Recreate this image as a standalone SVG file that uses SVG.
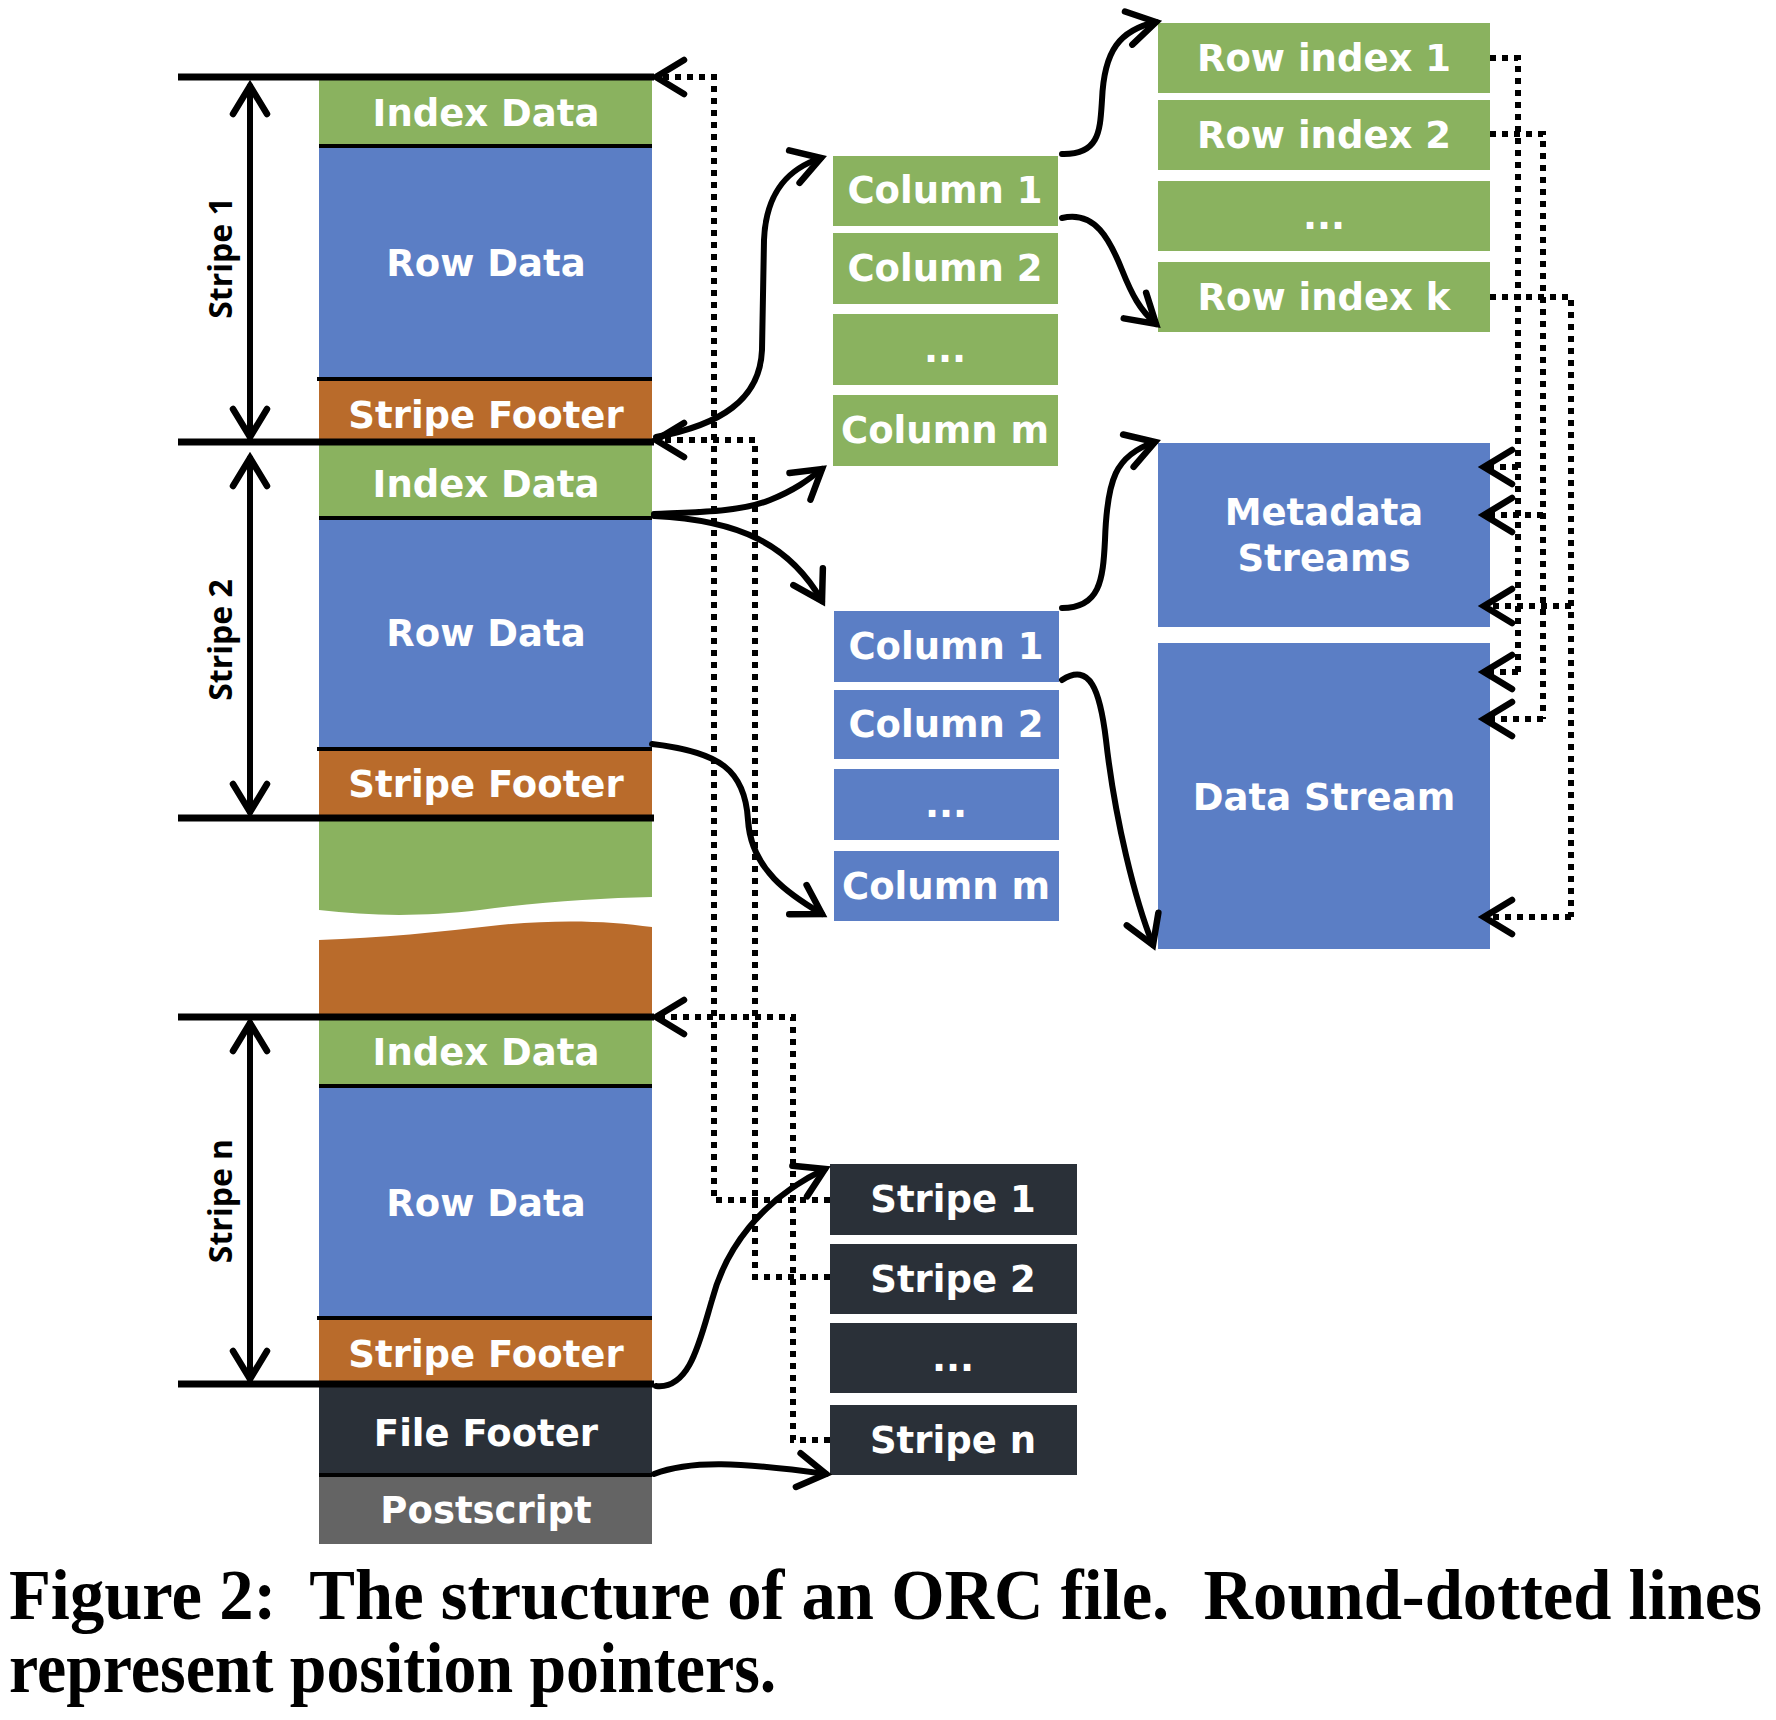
<svg xmlns="http://www.w3.org/2000/svg" width="1776" height="1720" viewBox="0 0 1776 1720">
<style>
.g{fill:#8AB25F}.b{fill:#5B7EC5}.o{fill:#B96B2B}.d{fill:#2A3038}.p{fill:#646464}
.lbl{font-family:"DejaVu Sans",Verdana,sans-serif;font-weight:bold;font-size:37px;fill:#fff;text-anchor:middle}
.dim{font-family:"Open Sans","Liberation Sans",sans-serif;font-weight:bold;font-size:32px;fill:#000;text-anchor:middle}
.hl{stroke:#000;stroke-width:7;fill:none}
.sep{stroke:#000;stroke-width:4;fill:none}
.sol{stroke:#000;stroke-width:6;fill:none;stroke-linecap:round}
.dot{stroke:#000;stroke-width:6;fill:none;stroke-dasharray:6 6}
.cap{font-family:"Liberation Serif","Times New Roman",serif;font-weight:bold;font-size:72px;fill:#000}
</style>
<defs>
<marker id="ah" markerUnits="userSpaceOnUse" viewBox="-40 -25 50 50" refX="0" refY="0" markerWidth="50" markerHeight="50" orient="auto-start-reverse" overflow="visible">
<path d="M -28 -17 L 0 0 L -28 17" fill="none" stroke="#000" stroke-width="6.5" stroke-dasharray="none" stroke-linecap="round" stroke-linejoin="miter"/>
</marker>
</defs>
<rect width="1776" height="1720" fill="#fff"/>

<!-- left file column -->
<g id="stripe1">
<rect class="g" x="319" y="77" width="333" height="69"/>
<rect class="b" x="319" y="146" width="333" height="233"/>
<rect class="o" x="319" y="379" width="333" height="63"/>
<line class="sep" x1="319" y1="146" x2="652" y2="146"/>
<line class="sep" x1="317" y1="379" x2="652" y2="379"/>
<text class="lbl" x="486" y="126">Index Data</text>
<text class="lbl" x="486" y="276">Row Data</text>
<text class="lbl" x="486" y="428">Stripe Footer</text>
</g>
<g id="stripe2">
<rect class="g" x="319" y="442" width="333" height="76"/>
<rect class="b" x="319" y="518" width="333" height="231"/>
<rect class="o" x="319" y="749" width="333" height="69"/>
<line class="sep" x1="319" y1="518" x2="652" y2="518"/>
<line class="sep" x1="317" y1="749" x2="652" y2="749"/>
<text class="lbl" x="486" y="497">Index Data</text>
<text class="lbl" x="486" y="646">Row Data</text>
<text class="lbl" x="486" y="797">Stripe Footer</text>
</g>
<g id="gap">
<path class="g" d="M 319 818 H 652 V 897 C 600 898 540 902 480 910 C 420 917 370 916 319 910 Z"/>
<path class="o" d="M 319 940 C 380 938 440 932 500 925 C 560 919 610 921 652 927 V 1017 H 319 Z"/>
</g>
<g id="stripen">
<rect class="g" x="319" y="1017" width="333" height="69"/>
<rect class="b" x="319" y="1086" width="333" height="232"/>
<rect class="o" x="319" y="1318" width="333" height="66"/>
<line class="sep" x1="319" y1="1086" x2="652" y2="1086"/>
<line class="sep" x1="317" y1="1318" x2="652" y2="1318"/>
<text class="lbl" x="486" y="1065">Index Data</text>
<text class="lbl" x="486" y="1216">Row Data</text>
<text class="lbl" x="486" y="1367">Stripe Footer</text>
</g>
<g id="filefooter">
<rect class="d" x="319" y="1384" width="333" height="91"/>
<text class="lbl" x="486" y="1446">File Footer</text>
</g>
<g id="postscript">
<rect class="p" x="319" y="1475" width="333" height="69"/>
<line class="sep" x1="319" y1="1475" x2="652" y2="1475"/>
<text class="lbl" x="486" y="1523">Postscript</text>
</g>
<g id="boundaries">
<line class="hl" x1="178" y1="77" x2="654" y2="77"/>
<line class="hl" x1="178" y1="442" x2="654" y2="442"/>
<line class="hl" x1="178" y1="818" x2="654" y2="818"/>
<line class="hl" x1="178" y1="1017" x2="654" y2="1017"/>
<line class="hl" x1="178" y1="1384" x2="654" y2="1384"/>
</g>
<g id="dimensions">
<line class="sol" x1="250" y1="86" x2="250" y2="437" marker-start="url(#ah)" marker-end="url(#ah)"/>
<line class="sol" x1="250" y1="458" x2="250" y2="812" marker-start="url(#ah)" marker-end="url(#ah)"/>
<line class="sol" x1="250" y1="1023" x2="250" y2="1379" marker-start="url(#ah)" marker-end="url(#ah)"/>
<text class="dim" transform="translate(232,258) rotate(-90)">Stripe 1</text>
<text class="dim" transform="translate(232,640) rotate(-90)">Stripe 2</text>
<text class="dim" transform="translate(232,1201) rotate(-90)">Stripe n</text>
</g>

<!-- green column index group -->
<g id="gcol1"><rect class="g" x="833" y="156" width="225" height="70"/><text class="lbl" x="945" y="203">Column 1</text></g>
<g id="gcol2"><rect class="g" x="833" y="233" width="225" height="71"/><text class="lbl" x="945" y="281">Column 2</text></g>
<g id="gcoldots"><rect class="g" x="833" y="314" width="225" height="71"/><text class="lbl" x="945" y="362">...</text></g>
<g id="gcolm"><rect class="g" x="833" y="395" width="225" height="71"/><text class="lbl" x="945" y="443">Column m</text></g>

<g id="ri1"><rect class="g" x="1158" y="23" width="332" height="70"/><text class="lbl" x="1324" y="71">Row index 1</text></g>
<g id="ri2"><rect class="g" x="1158" y="100" width="332" height="70"/><text class="lbl" x="1324" y="148">Row index 2</text></g>
<g id="ridots"><rect class="g" x="1158" y="181" width="332" height="70"/><text class="lbl" x="1324" y="229">...</text></g>
<g id="rik"><rect class="g" x="1158" y="262" width="332" height="70"/><text class="lbl" x="1324" y="310">Row index k</text></g>

<!-- blue column data group -->
<g id="bcol1"><rect class="b" x="834" y="611" width="225" height="71"/><text class="lbl" x="946" y="659">Column 1</text></g>
<g id="bcol2"><rect class="b" x="834" y="690" width="225" height="69"/><text class="lbl" x="946" y="737">Column 2</text></g>
<g id="bcoldots"><rect class="b" x="834" y="769" width="225" height="71"/><text class="lbl" x="946" y="817">...</text></g>
<g id="bcolm"><rect class="b" x="834" y="851" width="225" height="70"/><text class="lbl" x="946" y="899">Column m</text></g>

<g id="metadata"><rect class="b" x="1158" y="443" width="332" height="184"/>
<text class="lbl" x="1324" y="525">Metadata</text><text class="lbl" x="1324" y="571">Streams</text></g>
<g id="datastream"><rect class="b" x="1158" y="643" width="332" height="306"/>
<text class="lbl" x="1324" y="810">Data Stream</text></g>

<!-- footer stripe list -->
<g id="fs1"><rect class="d" x="830" y="1164" width="247" height="71"/><text class="lbl" x="953" y="1212">Stripe 1</text></g>
<g id="fs2"><rect class="d" x="830" y="1244" width="247" height="70"/><text class="lbl" x="953" y="1292">Stripe 2</text></g>
<g id="fsdots"><rect class="d" x="830" y="1323" width="247" height="70"/><text class="lbl" x="953" y="1371">...</text></g>
<g id="fsn"><rect class="d" x="830" y="1405" width="247" height="70"/><text class="lbl" x="953" y="1453">Stripe n</text></g>

<g id="connectors">
<!-- solid -->
<path class="sol" d="M 656 437 C 720 425 760 400 762 350 L 764 240 C 766 190 790 168 821 158" marker-end="url(#ah)"/>
<path class="sol" d="M 654 514 C 700 512 740 512 770 500 C 795 490 808 480 822 469" marker-end="url(#ah)"/>
<path class="sol" d="M 654 516 C 740 520 790 545 822 601" marker-end="url(#ah)"/>
<path class="sol" d="M 652 744 C 720 752 745 770 748 820 C 751 870 790 895 822 914" marker-end="url(#ah)"/>
<path class="sol" d="M 656 1386 C 690 1390 700 1340 712 1300 C 725 1250 760 1200 825 1169" marker-end="url(#ah)"/>
<path class="sol" d="M 654 1474 C 690 1460 740 1462 826 1474" marker-end="url(#ah)"/>
<path class="sol" d="M 1062 154 C 1100 155 1100 130 1102 100 C 1104 50 1120 30 1156 22" marker-end="url(#ah)"/>
<path class="sol" d="M 1062 218 C 1095 210 1110 240 1122 270 C 1132 295 1140 310 1156 324" marker-end="url(#ah)"/>
<path class="sol" d="M 1062 608 C 1100 608 1103 580 1105 540 C 1107 480 1115 455 1155 442" marker-end="url(#ah)"/>
<path class="sol" d="M 1062 680 C 1090 662 1100 690 1106 740 C 1115 820 1135 900 1153 945" marker-end="url(#ah)"/>
<!-- dotted position pointers -->
<path class="dot" d="M 830 1200 H 714 V 77 H 656" marker-end="url(#ah)"/>
<path class="dot" d="M 830 1277 H 755 V 440 H 656" marker-end="url(#ah)"/>
<path class="dot" d="M 830 1440 H 793 V 1017 H 656" marker-end="url(#ah)"/>
<path class="dot" d="M 1490 58 H 1518 V 672"/>
<path class="dot" d="M 1518 467 H 1484" marker-end="url(#ah)"/>
<path class="dot" d="M 1518 672 H 1484" marker-end="url(#ah)"/>
<path class="dot" d="M 1490 134 H 1543 V 719"/>
<path class="dot" d="M 1543 515 H 1484" marker-end="url(#ah)"/>
<path class="dot" d="M 1543 719 H 1484" marker-end="url(#ah)"/>
<path class="dot" d="M 1490 297 H 1571 V 917"/>
<path class="dot" d="M 1571 606 H 1484" marker-end="url(#ah)"/>
<path class="dot" d="M 1571 917 H 1484" marker-end="url(#ah)"/>
</g>

<g id="caption" transform="scale(0.87 1)">
<text class="cap" x="10.3" y="1619" textLength="2015" lengthAdjust="spacingAndGlyphs" xml:space="preserve">Figure 2:  The structure of an ORC file.  Round-dotted lines</text>
<text class="cap" x="10.3" y="1692" textLength="882" lengthAdjust="spacingAndGlyphs">represent position pointers.</text>
</g>
</svg>
